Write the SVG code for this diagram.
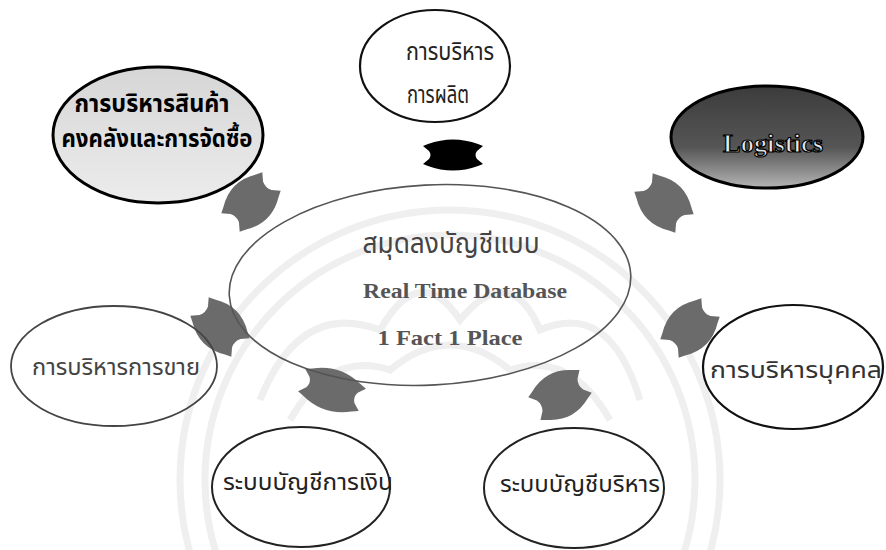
<svg xmlns="http://www.w3.org/2000/svg" width="886" height="550" viewBox="0 0 886 550">
<style>
.th{font-family:"Noto Sans Thai","Noto Sans","DejaVu Sans",sans-serif;}
.en{font-family:"Liberation Serif",serif;font-weight:bold;}
.node{fill:#fff;stroke:#111;stroke-width:2.2;}
.wm{fill:none;stroke:#efefef;stroke-width:7;}
.arw{fill:#6b6b6b;}
</style>
<defs>
<path id="dbl" d="M 29,-13 L 23,-16 Q 0,-30 -23,-16 L -29,-13 L -23,-6 Q -20,0 -23,6 L -29,13 L -23,16 Q 0,30 23,16 L 29,13 L 23,6 Q 20,0 23,-6 Z"/>
<path id="dblk" d="M 30,-9 L 25,-11 Q 0,-20 -25,-11 L -30,-9 L -24,-4 Q -21,0 -24,4 L -30,9 L -25,11 Q 0,20 25,11 L 30,9 L 24,4 Q 21,0 24,-4 Z"/>
<linearGradient id="lg" x1="0" y1="0" x2="0" y2="1">
<stop offset="0" stop-color="#d6d6d6"/><stop offset="1" stop-color="#ececec"/>
</linearGradient>
<linearGradient id="dg" x1="0" y1="0" x2="0" y2="1">
<stop offset="0" stop-color="#3c3c3c"/><stop offset="0.6" stop-color="#555"/><stop offset="1" stop-color="#b5b5b5"/>
</linearGradient>
</defs>
<rect width="886" height="550" fill="#fff"/>
<g id="watermark">
<circle class="wm" cx="450" cy="480" r="270"/>
<circle class="wm" cx="450" cy="480" r="245"/>
<path class="wm" d="M260 400 Q300 300 380 330 Q420 260 460 320 Q510 260 540 330 Q610 300 640 400"/>
<path class="wm" d="M290 420 Q330 350 390 370 Q450 320 510 370 Q570 350 610 420"/>
</g>
<g id="connectors">
<use href="#dblk" transform="translate(453,155)" fill="#000"/>
<use href="#dbl" class="arw" transform="translate(251,202) rotate(-45)"/>
<use href="#dbl" class="arw" transform="translate(664,203) rotate(45)"/>
<use href="#dbl" class="arw" transform="translate(220,327) rotate(45)"/>
<use href="#dbl" class="arw" transform="translate(690,328) rotate(-45)"/>
<use href="#dbl" class="arw" transform="translate(332,390) rotate(18) scale(1.1,0.9)"/>
<use href="#dbl" class="arw" transform="translate(560,395) rotate(-28)"/>
</g>
<g id="n-production">
<ellipse class="node" cx="435" cy="66" rx="75" ry="56"/>
<text class="th" x="450" y="60" font-size="24" text-anchor="middle" fill="#222" textLength="88" lengthAdjust="spacingAndGlyphs">การบริหาร</text>
<text class="th" x="438" y="103" font-size="24" text-anchor="middle" fill="#222" textLength="62" lengthAdjust="spacingAndGlyphs">การผลิต</text>
</g>
<g id="n-inventory">
<ellipse cx="158" cy="135" rx="105" ry="68" fill="url(#lg)" stroke="#000" stroke-width="3"/>
<text class="th" x="152" y="112" font-size="24" font-weight="bold" text-anchor="middle" fill="#000" textLength="155" lengthAdjust="spacingAndGlyphs">การบริหารสินค้า</text>
<text class="th" x="157" y="147" font-size="24" font-weight="bold" text-anchor="middle" fill="#000" textLength="191" lengthAdjust="spacingAndGlyphs">คงคลังและการจัดซื้อ</text>
</g>
<g id="n-logistics">
<ellipse cx="767" cy="137" rx="96" ry="51" fill="url(#dg)" stroke="#000" stroke-width="3"/>
<text class="en" x="773" y="152" font-size="26" text-anchor="middle" fill="#e6e6e6" stroke="#000" stroke-width="1.2" textLength="100" lengthAdjust="spacingAndGlyphs">Logistics</text>
</g>
<g id="n-ledger">
<ellipse cx="430" cy="285" rx="201" ry="100" fill="none" stroke="#555" stroke-width="1.6" transform="rotate(-3 430 285)"/>
<text class="th" x="451" y="253" font-size="28" text-anchor="middle" fill="#444" textLength="177" lengthAdjust="spacingAndGlyphs">สมุดลงบัญชีแบบ</text>
<text class="en" x="465" y="298" font-size="21" text-anchor="middle" fill="#555" textLength="204" lengthAdjust="spacingAndGlyphs">Real Time Database</text>
<text class="en" x="450" y="345" font-size="22" text-anchor="middle" fill="#555" textLength="145" lengthAdjust="spacingAndGlyphs">1 Fact  1 Place</text>
</g>
<g id="n-sales">
<ellipse cx="114" cy="366" rx="103" ry="60" fill="none" stroke="#444" stroke-width="1.8"/>
<text class="th" x="116" y="375" font-size="23" text-anchor="middle" fill="#444" textLength="168" lengthAdjust="spacingAndGlyphs">การบริหารการขาย</text>
</g>
<g id="n-personnel">
<ellipse class="node" cx="793" cy="367" rx="90" ry="62"/>
<text class="th" x="796" y="378" font-size="23" text-anchor="middle" fill="#333" textLength="172" lengthAdjust="spacingAndGlyphs">การบริหารบุคคล</text>
</g>
<g id="n-finance">
<ellipse cx="301" cy="487" rx="89" ry="60" fill="none" stroke="#222" stroke-width="2"/>
<text class="th" x="308" y="490" font-size="23" text-anchor="middle" fill="#222" textLength="170" lengthAdjust="spacingAndGlyphs">ระบบบัญชีการเงิน</text>
</g>
<g id="n-management">
<ellipse cx="574" cy="488" rx="90" ry="60" fill="none" stroke="#222" stroke-width="2"/>
<text class="th" x="580" y="492" font-size="23" text-anchor="middle" fill="#222" textLength="160" lengthAdjust="spacingAndGlyphs">ระบบบัญชีบริหาร</text>
</g>
</svg>
